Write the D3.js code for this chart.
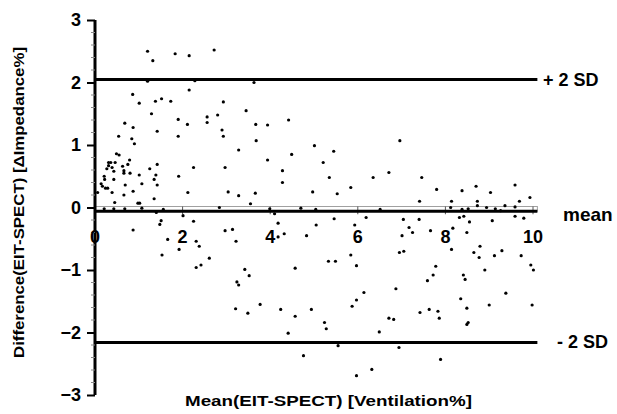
<!DOCTYPE html>
<html>
<head>
  <meta charset="utf-8">
  <title>Bland-Altman EIT vs SPECT</title>
  <script src="https://d3js.org/d3.v7.min.js"></script>
  <style>
    body { margin: 0; background: #fff; }
    text { font-family: "Liberation Sans", Arial, sans-serif; font-weight: bold; fill: #000; }
  </style>
</head>
<body>
  <script>
    // Data: [mean(EIT,SPECT) ventilation %, difference EIT-SPECT impedance %]
    var points = [
      [1.20,2.50],[1.32,2.35],[1.83,2.46],[2.15,2.43],[1.20,2.02],[2.28,2.03],[2.15,1.88],[0.86,1.81],
      [1.01,1.67],[1.38,1.70],[1.52,1.74],[1.73,1.70],[1.29,1.50],[0.68,1.35],[0.87,1.28],[1.42,1.22],
      [1.90,1.41],[2.11,1.33],[2.56,1.45],[2.56,1.36],[0.54,1.14],[0.84,1.10],[1.90,1.14],[2.72,2.52],
      [3.63,2.00],[2.93,1.69],[3.45,1.55],[2.80,1.48],[2.90,1.24],[3.67,1.33],[3.94,1.32],[4.42,1.40],
      [2.93,1.14],[3.68,1.07],[6.96,1.07],
      [0.90,1.02],[0.49,0.86],[0.55,0.84],[0.79,0.76],[0.31,0.72],[0.36,0.72],[0.46,0.72],[0.31,0.67],
      [0.39,0.64],[0.27,0.62],[0.75,0.69],[0.63,0.66],[0.66,0.59],[0.66,0.55],[0.80,0.55],[0.43,0.58],
      [1.42,0.69],[1.25,0.62],[1.01,0.52],[1.39,0.52],[1.35,0.45],[0.21,0.50],[0.22,0.45],[0.43,0.45],
      [0.14,0.38],[0.17,0.34],[0.24,0.31],[0.29,0.31],[0.69,0.36],[1.07,0.38],[1.42,0.36],[1.91,0.50],
      [2.25,0.64],[0.06,0.24],[0.39,0.24],[0.87,0.26],[0.66,0.20],[2.12,0.24],[1.35,0.14],[0.45,0.08],
      [0.98,0.07],[1.02,0.07],[0.43,-0.02],[1.40,-0.08],[2.01,-0.13],[1.56,-0.03],[1.51,-0.21],[1.48,-0.27],
      [2.25,-0.22],[0.87,-0.36],[1.66,-0.51],[1.92,-0.67],[2.31,-0.54],[2.38,-0.62],[1.53,-0.76],[2.61,-0.81],
      [2.42,-0.92],[2.31,-0.96],
      [3.28,0.92],[5.01,0.99],[4.49,0.85],[3.94,0.76],[5.45,0.90],[5.21,0.72],[2.97,0.64],[4.28,0.59],
      [4.28,0.40],[5.35,0.48],[6.35,0.48],[6.71,0.56],[5.84,0.32],[3.04,0.25],[3.28,0.19],[3.66,0.23],
      [4.97,0.25],[5.53,0.22],[3.55,0.06],[2.84,0.00],[4.10,-0.10],[4.70,-0.01],[5.04,-0.03],[6.51,-0.03],
      [4.18,-0.25],[2.97,-0.37],[3.14,-0.35],[3.22,-0.54],[4.18,-0.47],[4.32,-0.42],[4.83,-0.45],[5.05,-0.28],
      [5.46,-0.18],[5.93,-0.28],[6.19,-0.16],[7.04,-0.19],[7.17,-0.32],[7.01,-0.45],[3.42,-0.99],[4.57,-0.97],
      [5.33,-0.86],[5.49,-0.86],[5.84,-0.76],[5.97,-0.93],[6.95,-0.72],[7.05,-0.70],
      [3.52,-1.09],[3.24,-1.19],[3.28,-1.24],[6.87,-1.30],[6.14,-1.36],[5.97,-1.48],[5.87,-1.58],[3.21,-1.62],
      [3.49,-1.69],[3.77,-1.55],[4.24,-1.63],[4.57,-1.74],[4.94,-1.63],[5.24,-1.84],[5.28,-1.94],[4.41,-2.01],
      [6.49,-1.99],[6.71,-1.77],[6.82,-1.79],[5.55,-2.21],[6.94,-2.24],[4.76,-2.37],[5.97,-2.69],[6.32,-2.59],
      [7.46,0.48],[7.80,0.29],[8.38,0.27],[8.70,0.34],[9.03,0.24],[9.59,0.36],[9.93,0.16],[7.41,0.10],
      [8.14,0.10],[8.73,0.10],[9.69,0.10],[8.12,0.00],[8.38,-0.03],[8.52,-0.02],[8.73,0.03],[8.94,0.00],
      [9.14,-0.02],[9.26,-0.05],[9.36,0.03],[9.59,0.01],[7.40,-0.19],[8.32,-0.16],[8.42,-0.14],[8.55,-0.23],
      [9.07,-0.21],[9.59,-0.14],[9.79,-0.17],[7.25,-0.40],[7.66,-0.37],[8.17,-0.33],[8.49,-0.40],[8.14,-0.67],
      [8.65,-0.72],[8.79,-0.62],[8.77,-0.80],[9.12,-0.77],[9.29,-0.69],[9.73,-0.77],[7.78,-0.94],[8.90,-1.00],
      [9.95,-0.92],[10.01,-1.00],
      [7.72,-1.08],[7.59,-1.17],[8.41,-1.08],[8.45,-1.15],[9.38,-1.37],[8.35,-1.46],[9.00,-1.56],[9.98,-1.56],
      [8.49,-1.61],[7.42,-1.68],[7.63,-1.63],[7.83,-1.66],[7.86,-1.77],[8.52,-1.84],[8.49,-1.87],[7.89,-2.43],
      [3.99,-0.02],[1.07,-0.01],[0.68,-0.02],[0.21,-0.02]
    ];

    var meanDiff = -0.06;
    var upperSD = 2.05;
    var lowerSD = -2.16;
    var limitLabels = ["+ 2 SD", "mean", "- 2 SD"];

    var xTicks = [0, 2, 4, 6, 8, 10];
    var yTicks = [-3, -2, -1, 0, 1, 2, 3];

    var W = 617, H = 414;

    var svg = d3.select("body").append("svg")
      .attr("width", W)
      .attr("height", H);

    svg.append("rect").attr("width", W).attr("height", H).attr("fill", "#fff");

    // Scales
    var x = d3.scaleLinear().domain([0, 10]).range([95, 533]);
    var y = d3.scaleLinear().domain([-3, 3]).range([395, 20]);
    var xEnd = x(10.1);

    // zero line box + mean line
    svg.append("rect")
      .attr("x", x(0))
      .attr("y", y(0) - 1)
      .attr("width", xEnd - x(0))
      .attr("height", y(meanDiff) - y(0) + 1)
      .attr("fill", "none")
      .attr("stroke", "#a0a0a0")
      .attr("stroke-width", 1);

    // x ticks on the zero line
    svg.selectAll(".xtick")
      .data(xTicks.slice(1))
      .enter().append("line")
      .attr("x1", function(d) { return x(d); })
      .attr("x2", function(d) { return x(d); })
      .attr("y1", y(0) - 1)
      .attr("y2", y(meanDiff) + 3)
      .attr("stroke", "#555")
      .attr("stroke-width", 1);

    // limit lines
    var limits = [upperSD, meanDiff, lowerSD];
    svg.selectAll(".limit")
      .data(limits)
      .enter().append("line")
      .attr("x1", x(0))
      .attr("x2", xEnd)
      .attr("y1", function(d) { return y(d); })
      .attr("y2", function(d) { return y(d); })
      .attr("stroke", "#000")
      .attr("stroke-width", 3);

    // y axis
    var yAxis = d3.axisLeft(y)
      .tickValues(yTicks)
      .tickSize(8)
      .tickPadding(6)
      .tickFormat(d3.format("d"));

    var gy = svg.append("g")
      .attr("transform", "translate(" + x(0) + ",0)")
      .call(yAxis);
    gy.select(".domain").attr("stroke-width", 3).attr("d", "M0," + y(3) + "V" + y(-3));
    gy.selectAll(".tick line").attr("stroke-width", 2);
    gy.selectAll(".tick text")
      .style("font-size", "18px")
      .style("font-family", "'Liberation Sans', Arial, sans-serif")
      .style("font-weight", "bold");

    // minor ticks on y axis
    var minor = d3.range(-3, 3.001, 0.2).filter(function(v) {
      return Math.abs(v - Math.round(v)) > 0.01;
    });
    svg.selectAll(".minor")
      .data(minor)
      .enter().append("line")
      .attr("x1", x(0) - 4)
      .attr("x2", x(0))
      .attr("y1", function(d) { return y(d); })
      .attr("y2", function(d) { return y(d); })
      .attr("stroke", "#888")
      .attr("stroke-width", 1);

    // x tick labels (axis crosses at 0)
    svg.selectAll(".xlab")
      .data(xTicks)
      .enter().append("text")
      .attr("x", function(d) { return x(d); })
      .attr("y", y(0) + 35)
      .attr("text-anchor", "middle")
      .style("font-size", "18px")
      .text(function(d) { return d; });

    // points
    svg.selectAll(".pt")
      .data(points)
      .enter().append("circle")
      .attr("cx", function(d) { return x(d[0]); })
      .attr("cy", function(d) { return y(d[1]); })
      .attr("r", 1.6)
      .attr("fill", "#000");

    // limit labels
    var labelX = [543, 563, 557];
    var labelDy = [7, 10, 5];
    var labelSize = [18, 19, 18];
    svg.selectAll(".limlab")
      .data(limitLabels)
      .enter().append("text")
      .attr("x", function(d, i) { return labelX[i]; })
      .attr("y", function(d, i) { return y(limits[i]) + labelDy[i]; })
      .style("font-size", function(d, i) { return labelSize[i] + "px"; })
      .text(function(d) { return d; });

    // axis titles
    svg.append("text")
      .attr("x", 185)
      .attr("y", 406)
      .attr("textLength", 287)
      .attr("lengthAdjust", "spacingAndGlyphs")
      .style("font-size", "14px")
      .text("Mean(EIT-SPECT) [Ventilation%]");

    svg.append("text")
      .attr("transform", "translate(24,358) rotate(-90)")
      .attr("x", 0)
      .attr("y", 0)
      .attr("textLength", 311)
      .attr("lengthAdjust", "spacingAndGlyphs")
      .style("font-size", "15px")
      .text("Difference(EIT-SPECT) [\u0394Impedance%]");
  </script>
</body>
</html>
